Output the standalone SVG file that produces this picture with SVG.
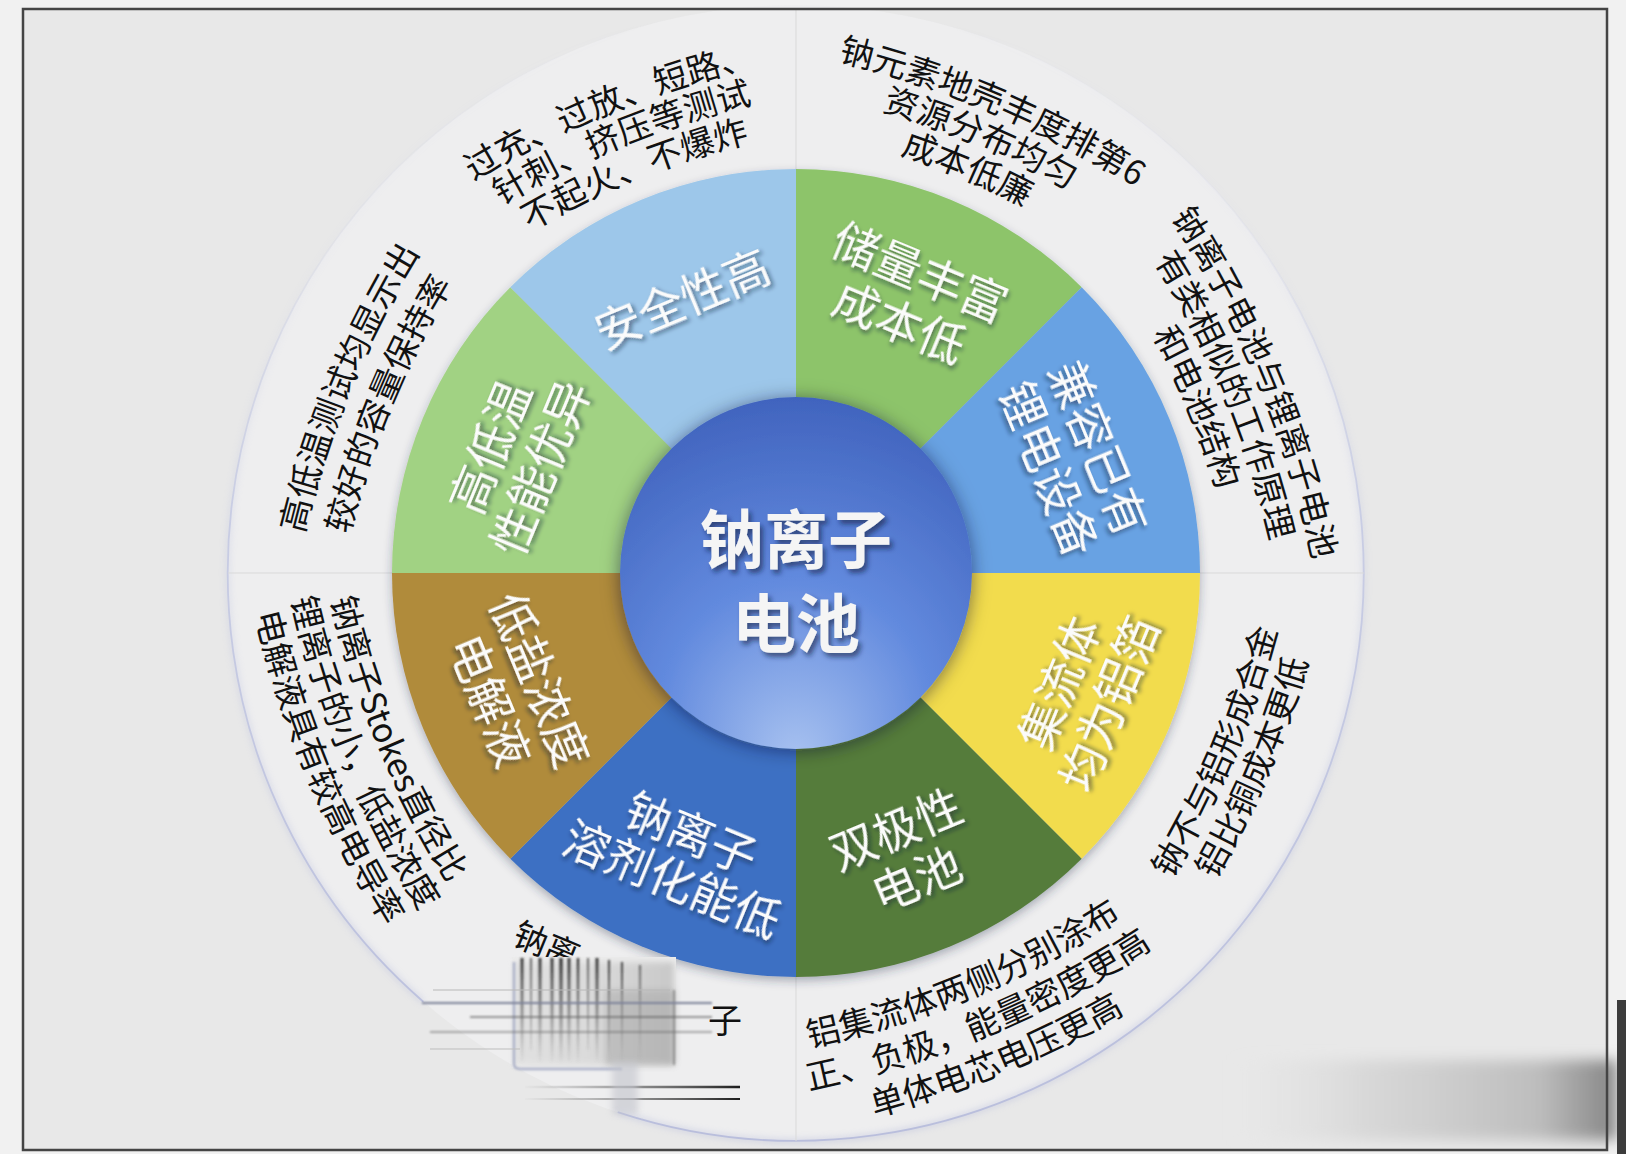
<svg xmlns="http://www.w3.org/2000/svg" width="1626" height="1154" viewBox="0 0 1626 1154">
<style>
  .wt { font-family: "Noto Sans CJK SC", "Noto Sans", sans-serif; font-size: 46px; fill: #fbfbfb; text-anchor: middle; dominant-baseline: central; }
  .wt tspan, .ot tspan, .ct tspan { dominant-baseline: central; }
  .ot { font-family: "Noto Sans CJK SC", "Noto Sans", sans-serif; font-size: 34px; fill: #111; text-anchor: middle; dominant-baseline: central; }
  .op { font-family: "Noto Sans CJK SC", "Noto Sans", sans-serif; font-size: 34px; fill: #111; text-anchor: middle; }
  .ct { font-family: "Noto Sans CJK SC", "Noto Sans", sans-serif; font-size: 64px; font-weight: bold; fill: #f5f5f5; text-anchor: middle; dominant-baseline: central; }
  .sep { stroke: #d9d9d9; stroke-width: 1; fill: none; }
</style>
<defs>
  <filter id="txtShadow" x="-20%" y="-30%" width="140%" height="160%">
    <feDropShadow dx="2" dy="3" stdDeviation="2.2" flood-color="#142238" flood-opacity="0.55"/>
  </filter>
  <filter id="ctShadow" x="-20%" y="-30%" width="140%" height="160%">
    <feDropShadow dx="3" dy="4" stdDeviation="2.5" flood-color="#0e1a40" flood-opacity="0.6"/>
  </filter>
  <filter id="discShadow" x="-20%" y="-20%" width="140%" height="140%">
    <feDropShadow dx="0" dy="4" stdDeviation="5" flood-color="#2c3650" flood-opacity="0.35"/>
  </filter>
  <filter id="circShadow" x="-30%" y="-30%" width="160%" height="160%">
    <feDropShadow dx="0" dy="2" stdDeviation="9" flood-color="#101830" flood-opacity="0.5"/>
  </filter>
  <filter id="uBlur1" filterUnits="userSpaceOnUse" x="0" y="0" width="1626" height="1154">
    <feGaussianBlur stdDeviation="1.1"/>
  </filter>
  <filter id="uBlur3" filterUnits="userSpaceOnUse" x="0" y="0" width="1626" height="1154">
    <feGaussianBlur stdDeviation="3"/>
  </filter>
  <filter id="uBlur7" filterUnits="userSpaceOnUse" x="0" y="0" width="1626" height="1154">
    <feGaussianBlur stdDeviation="7"/>
  </filter>
  <radialGradient id="centerGrad" gradientUnits="userSpaceOnUse" cx="796" cy="660" r="300" fx="796" fy="760">
    <stop offset="0" stop-color="#a8c2f0"/>
    <stop offset="0.45" stop-color="#628ade"/>
    <stop offset="1" stop-color="#3a5cb8"/>
  </radialGradient>
  <linearGradient id="ringStroke" gradientUnits="userSpaceOnUse" x1="0" y1="5" x2="0" y2="1141">
    <stop offset="0" stop-color="#c2c7e2" stop-opacity="0"/>
    <stop offset="0.22" stop-color="#c2c7e2" stop-opacity="0.15"/>
    <stop offset="0.45" stop-color="#c2c7e2" stop-opacity="0.8"/>
    <stop offset="1" stop-color="#b9bedc" stop-opacity="1"/>
  </linearGradient>
  <linearGradient id="vfade" gradientUnits="userSpaceOnUse" x1="0" y1="958" x2="0" y2="1066">
    <stop offset="0" stop-color="#262626" stop-opacity="0.9"/>
    <stop offset="0.55" stop-color="#555" stop-opacity="0.5"/>
    <stop offset="1" stop-color="#888" stop-opacity="0"/>
  </linearGradient>
  <linearGradient id="hfade" gradientUnits="userSpaceOnUse" x1="520" y1="0" x2="742" y2="0">
    <stop offset="0" stop-color="#777" stop-opacity="0"/>
    <stop offset="0.5" stop-color="#555" stop-opacity="0.6"/>
    <stop offset="1" stop-color="#1a1a1a" stop-opacity="1"/>
  </linearGradient>
  <linearGradient id="boxGrad" gradientUnits="userSpaceOnUse" x1="513" y1="0" x2="675" y2="0">
    <stop offset="0" stop-color="#dadada"/>
    <stop offset="0.55" stop-color="#cdcdcd"/>
    <stop offset="1" stop-color="#b0b0b0"/>
  </linearGradient>
  <linearGradient id="bandGrad" gradientUnits="userSpaceOnUse" x1="1230" y1="0" x2="1617" y2="0">
    <stop offset="0" stop-color="#e2e2e2" stop-opacity="0"/>
    <stop offset="0.35" stop-color="#d4d4d4" stop-opacity="0.8"/>
    <stop offset="0.8" stop-color="#bdbdbd" stop-opacity="1"/>
    <stop offset="1" stop-color="#858585" stop-opacity="1"/>
  </linearGradient>
  <!-- gently arched baselines, top half (centered at 12 o'clock) -->
  <path id="t501" d="M372.53 165.88 A1002 1002 0 0 1 1219.47 165.88"/>
  <path id="t465" d="M402.96 195.13 A930 930 0 0 1 1189.04 195.13"/>
  <path id="t429" d="M433.39 224.39 A858 858 0 0 1 1158.61 224.39"/>
  <path id="t500" d="M373.38 166.69 A1000 1000 0 0 1 1218.62 166.69"/>
  <path id="t463" d="M404.65 196.76 A926 926 0 0 1 1187.35 196.76"/>
  <path id="t425" d="M436.77 227.64 A850 850 0 0 1 1155.23 227.64"/>
  <path id="t496" d="M376.76 169.94 A992 992 0 0 1 1215.24 169.94"/>
  <path id="t461" d="M406.34 198.38 A922 922 0 0 1 1185.66 198.38"/>
  <path id="t482" d="M388.59 181.32 A964 964 0 0 1 1203.41 181.32"/>
  <path id="t438" d="M425.78 217.07 A876 876 0 0 1 1166.22 217.07"/>
  <!-- bottom half (centered at 6 o'clock, reading left to right) -->
  <path id="b475" d="M394.51 958.99 A950 950 0 0 0 1197.49 958.99"/>
  <path id="b513" d="M362.39 989.87 A1026 1026 0 0 0 1229.61 989.87"/>
  <path id="b453" d="M413.11 941.12 A906 906 0 0 0 1178.89 941.12"/>
  <path id="b459" d="M408.03 946.00 A918 918 0 0 0 1183.97 946.00"/>
  <path id="b500" d="M373.38 979.31 A1000 1000 0 0 0 1218.62 979.31"/>
  <path id="b541" d="M338.73 1012.63 A1082 1082 0 0 0 1253.27 1012.63"/>
  <path id="b491" d="M380.99 972.00 A982 982 0 0 0 1210.99 972.00"/>
  <path id="b529" d="M348.87 1002.88 A1058 1058 0 0 0 1243.13 1002.88"/>
</defs>

<!-- page background -->
<rect x="0" y="0" width="1626" height="1154" fill="#f1f1f1"/>
<rect x="23" y="9" width="1584" height="1141" fill="#e8e8e8"/>

<!-- outer ring -->
<g id="outer-ring">
  <circle cx="796" cy="573" r="568" fill="#eeeeef"/>
  <path d="M423.3 1001.7 A568 568 0 1 1 617.7 1112.2" fill="none" stroke="url(#ringStroke)" stroke-width="4" filter="url(#uBlur3)" opacity="0.6"/>
  <path d="M423.3 1001.7 A568 568 0 1 1 617.7 1112.2" fill="none" stroke="url(#ringStroke)" stroke-width="1.8"/>
  <line class="sep" x1="796" y1="10" x2="796" y2="169"/>
  <line class="sep" x1="228" y1="573" x2="392" y2="573"/>
  <line class="sep" x1="1200" y1="573" x2="1364" y2="573"/>
  <line class="sep" x1="796" y1="977" x2="796" y2="1141"/>
</g>

<!-- wedges -->
<g id="wedges" filter="url(#discShadow)">
  <path id="w0" d="M796 573 L796 169 A404 404 0 0 1 1081.67 287.33 Z" fill="#8dc46b"/>
  <path id="w1" d="M796 573 L1081.67 287.33 A404 404 0 0 1 1200 573 Z" fill="#67a2e3"/>
  <path id="w2" d="M796 573 L1200 573 A404 404 0 0 1 1081.67 858.67 Z" fill="#f2dc4e"/>
  <path id="w3" d="M796 573 L1081.67 858.67 A404 404 0 0 1 796 977 Z" fill="#557b3b"/>
  <path id="w4" d="M796 573 L796 977 A404 404 0 0 1 510.33 858.67 Z" fill="#3c70c3"/>
  <path id="w5" d="M796 573 L510.33 858.67 A404 404 0 0 1 392 573 Z" fill="#b08b3a"/>
  <path id="w6" d="M796 573 L392 573 A404 404 0 0 1 510.33 287.33 Z" fill="#a1d283"/>
  <path id="w7" d="M796 573 L510.33 287.33 A404 404 0 0 1 796 169 Z" fill="#9dc7ea"/>
</g>

<!-- center node -->
<g id="center">
  <circle cx="796" cy="573" r="176" fill="url(#centerGrad)" filter="url(#circShadow)"/>
  <text class="ct" filter="url(#ctShadow)"><tspan x="796" y="535">钠离子</tspan><tspan x="796" y="619">电池</tspan></text>
</g>

<!-- wedge labels -->
<g id="label-w0" transform="translate(911 294) rotate(22.5)">
  <text class="wt" filter="url(#txtShadow)"><tspan x="0" y="-27">储量丰富</tspan><tspan x="0" y="27">成本低</tspan></text>
</g>
<g id="label-w1" transform="translate(1077 457) rotate(67.5)">
  <text class="wt" filter="url(#txtShadow)"><tspan x="0" y="-27">兼容已有</tspan><tspan x="0" y="27">锂电设备</tspan></text>
</g>
<g id="label-w2" transform="translate(1081 692) rotate(-67.5)">
  <text class="wt" filter="url(#txtShadow)"><tspan x="0" y="-27">集流体</tspan><tspan x="0" y="27">均为铝箔</tspan></text>
</g>
<g id="label-w3" transform="translate(905 851) rotate(-22.5)">
  <text class="wt" filter="url(#txtShadow)"><tspan x="0" y="-27">双极性</tspan><tspan x="0" y="27">电池</tspan></text>
</g>
<g id="label-w4" transform="translate(683 853) rotate(22.5)">
  <text class="wt" filter="url(#txtShadow)"><tspan x="0" y="-25">钠离子</tspan><tspan x="0" y="25">溶剂化能低</tspan></text>
</g>
<g id="label-w5" transform="translate(518 689) rotate(67.5)">
  <text class="wt" filter="url(#txtShadow)"><tspan x="0" y="-27">低盐浓度</tspan><tspan x="0" y="27">电解液</tspan></text>
</g>
<g id="label-w6" transform="translate(512 456) rotate(-67.5)">
  <text class="wt" filter="url(#txtShadow)"><tspan x="0" y="-27">高低温</tspan><tspan x="0" y="27">性能优异</tspan></text>
</g>
<g id="label-w7" transform="translate(681 296) rotate(-22.5)">
  <text class="wt" filter="url(#txtShadow)">安全性高</text>
</g>

<!-- outer descriptions, gently arched along the ring -->
<g id="desc-0" transform="rotate(23 796 573)">
  <text class="op"><textPath href="#t501" startOffset="50%">钠元素地壳丰度排第6</textPath></text>
  <text class="op"><textPath href="#t465" startOffset="50%">资源分布均匀</textPath></text>
  <text class="op"><textPath href="#t429" startOffset="50%">成本低廉</textPath></text>
</g>
<g id="desc-1" transform="rotate(67.5 796 573)">
  <text class="op"><textPath href="#t500" startOffset="50%">钠离子电池与锂离子电池</textPath></text>
  <text class="op"><textPath href="#t463" startOffset="50%">有类相似的工作原理</textPath></text>
  <text class="op"><textPath href="#t425" startOffset="50%">和电池结构</textPath></text>
</g>
<g id="desc-2" transform="rotate(-67 796 573)">
  <text class="op"><textPath href="#b475" startOffset="50%">钠不与铝形成合金</textPath></text>
  <text class="op"><textPath href="#b513" startOffset="50%">铝比铜成本更低</textPath></text>
</g>
<g id="desc-3" transform="rotate(-22.5 796 573)">
  <text class="op"><textPath href="#b459" startOffset="50%">铝集流体两侧分别涂布</textPath></text>
  <text class="op"><textPath href="#b500" startOffset="50%">正、负极，能量密度更高</textPath></text>
  <text class="op"><textPath href="#b541" startOffset="50%">单体电芯电压更高</textPath></text>
</g>
<g id="desc-5" transform="rotate(67.5 796 573)">
  <text class="op"><textPath href="#b453" startOffset="50%">钠离子Stokes直径比</textPath></text>
  <text class="op"><textPath href="#b491" startOffset="50%">锂离子的小，低盐浓度</textPath></text>
  <text class="op"><textPath href="#b529" startOffset="50%">电解液具有较高电导率</textPath></text>
</g>
<g id="desc-6" transform="rotate(-67.5 796 573)">
  <text class="op"><textPath href="#t482" startOffset="50%">高低温测试均显示出</textPath></text>
  <text class="op"><textPath href="#t438" startOffset="50%">较好的容量保持率</textPath></text>
</g>
<g id="desc-7" transform="rotate(-22 796 573)">
  <text class="op"><textPath href="#t496" startOffset="50%">过充、过放、短路、</textPath></text>
  <text class="op"><textPath href="#t461" startOffset="50%">针刺、挤压等测试</textPath></text>
  <text class="op"><textPath href="#t425" startOffset="50%">不起火、不爆炸</textPath></text>
</g>

<!-- corrupted description (bottom left) -->
<g id="desc-4">
  <text class="ot" style="text-anchor:start" transform="translate(516 930) rotate(22.5)">钠离</text>
  <rect x="512" y="957" width="164" height="111" fill="#ececec"/>
  <rect x="514" y="962" width="160" height="103" fill="url(#boxGrad)" opacity="0.6" filter="url(#uBlur3)"/>
  <g stroke="url(#vfade)" filter="url(#uBlur1)">
    <line x1="522" y1="958" x2="522" y2="1062" stroke-width="3"/>
    <line x1="531" y1="958" x2="531" y2="1050" stroke-width="1.5"/>
    <line x1="540" y1="958" x2="540" y2="1062" stroke-width="3"/>
    <line x1="552" y1="958" x2="552" y2="1062" stroke-width="3"/>
    <line x1="561" y1="958" x2="561" y2="1062" stroke-width="3.5"/>
    <line x1="569" y1="958" x2="569" y2="1062" stroke-width="3"/>
    <line x1="578" y1="958" x2="578" y2="1062" stroke-width="2.5"/>
    <line x1="588" y1="958" x2="588" y2="1050" stroke-width="1.5"/>
    <line x1="597" y1="958" x2="597" y2="1062" stroke-width="3"/>
    <line x1="609" y1="960" x2="609" y2="1062" stroke-width="2"/>
    <line x1="622" y1="962" x2="622" y2="1062" stroke-width="2"/>
    <line x1="640" y1="965" x2="640" y2="1062" stroke-width="1.5"/>
  </g>
  <rect x="605" y="990" width="70" height="75" fill="#9c9c9c" opacity="0.4" filter="url(#uBlur3)"/>
  <line x1="674" y1="990" x2="674" y2="1065" stroke="#555" stroke-width="1.5" opacity="0.7" filter="url(#uBlur1)"/>
  <path d="M514 962 L514 1064 Q514 1069 521 1069 L622 1069" fill="none" stroke="#9ea4c0" stroke-width="2.5" opacity="0.8" filter="url(#uBlur1)"/>
  <line x1="422" y1="1003" x2="712" y2="1003" stroke="#7c8298" stroke-width="2" filter="url(#uBlur1)"/>
  <line x1="433" y1="990" x2="670" y2="990" stroke="#b8b8b8" stroke-width="1"/>
  <line x1="470" y1="1017" x2="712" y2="1017" stroke="#5a5a5a" stroke-width="1.5" opacity="0.8" filter="url(#uBlur1)"/>
  <line x1="430" y1="1032" x2="712" y2="1032" stroke="#6a6a6a" stroke-width="1.5" opacity="0.7" filter="url(#uBlur1)"/>
  <line x1="430" y1="1049" x2="520" y2="1049" stroke="#bdbdbd" stroke-width="1"/>
  <line x1="525" y1="1087" x2="740" y2="1087" stroke="url(#hfade)" stroke-width="2.5"/>
  <line x1="525" y1="1099" x2="740" y2="1099" stroke="url(#hfade)" stroke-width="1.8"/>
  <rect x="612" y="1062" width="26" height="52" fill="#c2c4cc" opacity="0.6" filter="url(#uBlur3)"/>
  <text class="ot" x="725" y="1018">子</text>
</g>

<!-- bottom-right smear -->
<g id="smear">
  <rect x="1232" y="1060" width="385" height="80" fill="url(#bandGrad)" filter="url(#uBlur7)"/>
  <rect x="1617" y="1000" width="9" height="154" fill="#3c3c3c"/>
</g>

<!-- frame -->
<rect x="23" y="9" width="1584" height="1141" fill="none" stroke="#444" stroke-width="2.5"/>
</svg>
